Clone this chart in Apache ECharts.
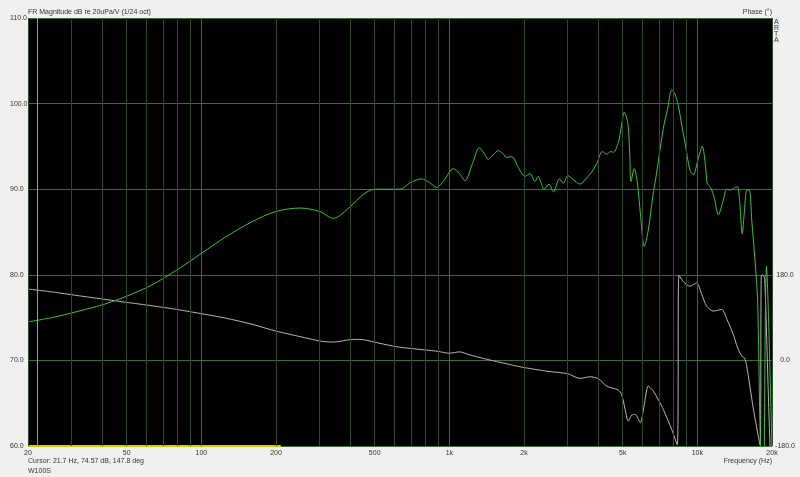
<!DOCTYPE html>
<html>
<head>
<meta charset="utf-8">
<script src="https://cdn.jsdelivr.net/npm/echarts@6/dist/echarts.min.js"></script>
<style>
html,body{margin:0;padding:0;background:#f0f0f0;}
#chart{width:800px;height:477px;}
</style>
</head>
<body>
<div id="chart"></div>
<script>
// Magnitude (dB re 20uPa/V)
var magFreq = [20,25,31.5,40,50,63,80,100,125,160,200,250,300,340,400,450,500,560,632,700,773,830,889,950,1037,1100,1156,1240,1321,1380,1435,1500,1575,1640,1703,1760,1811,1900,2018,2115,2215,2284,2340,2409,2523,2627,2778,2884,3002,3162,3363,3524,3750,3929,4141,4313,4479,4589,4806,4950,5074,5170,5266,5340,5399,5567,5723,5900,6110,6340,6600,6851,7290,7600,7878,8100,8376,8650,8911,9337,9628,10090,10470,10800,10960,11310,11700,12150,12720,13130,13530,14000,14490,14800,15170,15500,15820,16200,16570,17080,17500,17900,18400,19000,20000];
var magDb   = [74.5,75.0,75.7,76.5,77.5,78.8,80.6,82.5,84.4,86.2,87.4,87.8,87.4,86.6,88.0,89.4,90.0,90.0,90.0,90.8,91.2,90.8,90.2,91.0,92.4,91.8,91.0,93.0,94.85,94.2,93.5,94.0,94.5,94.2,93.7,93.8,93.7,92.5,91.5,91.8,90.9,91.5,90.8,90.0,90.6,89.7,91.2,90.7,91.6,91.1,90.6,91.1,92.0,93.0,94.4,94.1,94.4,94.3,95.5,97.5,99.0,98.5,97.3,94.0,90.9,92.4,90.9,87.0,83.3,85.2,89.0,91.9,97.1,99.5,101.6,101.2,99.8,97.5,95.5,92.2,91.7,93.6,95.0,92.6,90.7,90.2,89.0,87.0,88.7,90.0,89.9,90.1,90.3,88.7,84.8,87.6,89.9,89.9,86.4,81.7,77.0,62.0,50.0,81.0,59.5];

// Phase (degrees)
var phaseFreq = [20,25,31.5,40,50,63,80,100,125,160,200,250,302,340,410,450,525,613,700,800,900,1000,1100,1200,1400,1600,1800,2000,2500,3000,3363,3690,3990,4310,4800,4950,5100,5266,5440,5620,5890,6100,6340,6640,7000,7290,7878,8300,8430,8800,9330,9929,10400,10900,11600,12530,13200,13960,14500,15100,15500,15820,16800,17900,18100,18400,18700,19640,20000];
var phaseDeg  = [150,144,136.5,129,122,115,107,98.2,89,76,61.6,50,40.6,38.5,44.2,43.5,35.8,28.7,25,22,19,15,18,12,3,-4,-10,-15,-23,-28,-37.9,-34.4,-38.5,-54,-62.4,-71.5,-100,-127.6,-115,-113.6,-131,-95,-54,-64.5,-85,-103,-145,-178,179,165,156,163,140,114,103.7,107,85,54.7,28,9,5,-12,-100,-178,178,180,170,-178,-200];

// Axis labels / grid frequencies
var freqLabels = [20,50,100,200,500,1000,2000,5000,10000,20000];
var minorGridFreqs = [20,30,40,50,60,70,80,90,200,300,400,500,600,700,800,900,2000,3000,4000,5000,6000,7000,8000,9000,20000];
var majorGridFreqs = [100,1000,10000];
var phaseLabels = [-180,0,180];
var cursorFreq = 21.7;
var bottomMarkerFreq = [20,209];
var bottomMarkerDb = [60,60];

function zip(a,b){var r=[];for(var i=0;i<a.length;i++)r.push([a[i],b[i]]);return r;}
function fmtF(v){return v>=1000?(v/1000)+'k':String(v);}

var FONT = 'Liberation Sans';
var FS = 7;
var TXT = '#333';

var gridLines = [];
minorGridFreqs.forEach(function(f){gridLines.push({xAxis:f,lineStyle:{color:'#2b4a29',width:1,type:'solid'}});});
majorGridFreqs.forEach(function(f){gridLines.push({xAxis:f,lineStyle:{color:'#3f6b3a',width:1,type:'solid'}});});
gridLines.push({xAxis:cursorFreq,lineStyle:{color:'#a8a838',width:1,type:'solid'}});

var chart = echarts.init(document.getElementById('chart'));
chart.setOption({
  animation:false,
  backgroundColor:'#f0f0f0',
  grid:{left:28,right:28,top:18,bottom:31,show:true,backgroundColor:'#000',borderWidth:0},
  xAxis:{
    type:'log',logBase:10,min:20,max:20000,
    axisLine:{show:false},axisTick:{show:false},splitLine:{show:false},minorSplitLine:{show:false},
    axisLabel:{customValues:freqLabels,formatter:function(v){return fmtF(Math.round(v));},
      fontFamily:FONT,fontSize:FS,color:TXT,margin:4,showMinLabel:true,showMaxLabel:true}
  },
  yAxis:[{
    type:'value',min:60,max:110,interval:10,
    axisLine:{show:false},axisTick:{show:false},
    splitLine:{show:true,lineStyle:{color:'#3f6b3a',width:1}},
    axisLabel:{formatter:function(v){return v.toFixed(1);},fontFamily:FONT,fontSize:FS,color:TXT,align:'left',margin:18}
  },{
    type:'value',min:-180,max:720,interval:180,position:'right',
    axisLine:{show:false},axisTick:{show:false},splitLine:{show:false},
    axisLabel:{customValues:phaseLabels,formatter:function(v){return v<=180?v.toFixed(1):'';},fontFamily:FONT,fontSize:FS,color:TXT,align:'center',margin:13}
  }],
  series:[{
    type:'line',data:[],silent:true,
    markLine:{silent:true,symbol:['none','none'],label:{show:false},animation:false,data:gridLines}
  },{
    type:'line',name:'marker',data:zip(bottomMarkerFreq,bottomMarkerDb),showSymbol:false,
    lineStyle:{color:'#d0d000',width:2},silent:true
  },{
    type:'line',name:'phase',yAxisIndex:1,data:zip(phaseFreq,phaseDeg),showSymbol:false,
    smooth:0.25,clip:true,
    lineStyle:{color:'#b8b8b8',width:1},silent:true
  },{
    type:'line',name:'magnitude',data:zip(magFreq,magDb),showSymbol:false,
    smooth:0.3,clip:true,
    lineStyle:{color:'#3cc43c',width:1},silent:true
  }],
  graphic:[
    {type:'text',left:28,top:9,style:{text:'FR Magnitude dB re 20uPa/V (1/24 oct)',font:FS+'px "'+FONT+'"',fill:TXT}},
    {type:'text',right:28,top:9,style:{text:'Phase (°)',font:FS+'px "'+FONT+'"',fill:TXT}},
    {type:'text',left:774,top:19,style:{text:'A\nR\nT\nA',font:FS+'px "'+FONT+'"',fill:TXT,lineHeight:6}},
    {type:'text',left:28,top:458,style:{text:'Cursor: 21.7 Hz, 74.57 dB, 147.8 deg',font:FS+'px "'+FONT+'"',fill:TXT}},
    {type:'text',left:28,top:468,style:{text:'W100S',font:FS+'px "'+FONT+'"',fill:TXT}},
    {type:'text',right:28,top:458,style:{text:'Frequency (Hz)',font:FS+'px "'+FONT+'"',fill:TXT}}
  ]
});
</script>
</body>
</html>
